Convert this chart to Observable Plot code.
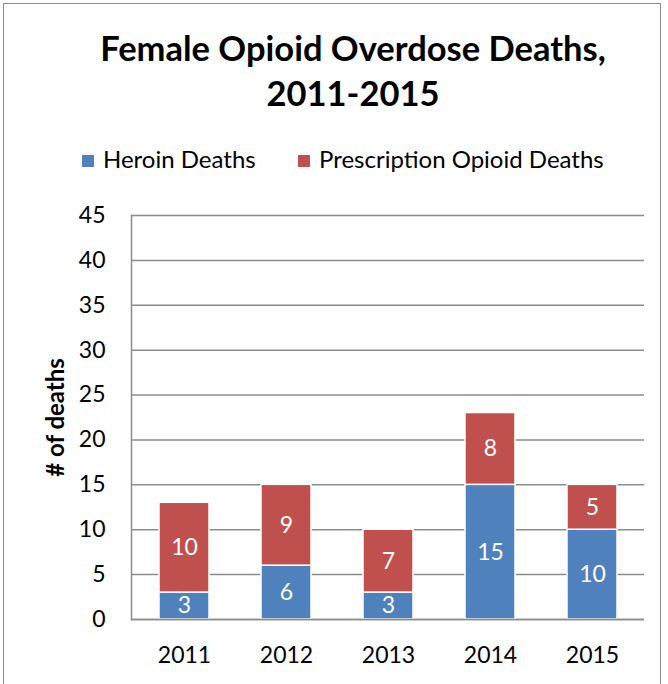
<!DOCTYPE html>
<html>
<head>
<meta charset="utf-8">
<script src="https://cdn.jsdelivr.net/npm/d3@7"></script>
<script src="https://cdn.jsdelivr.net/npm/@observablehq/plot@0.6"></script>
<style>
  html, body { margin: 0; padding: 0; background: #fff; }
  #wrap { position: relative; width: 668px; height: 684px; overflow: hidden; font-family: Lato, "Open Sans", sans-serif; }
  #border { position: absolute; left: 3px; top: 3px; width: 658px; height: 720px; border: 1.5px solid #8c8c8c; box-sizing: border-box; }
  #title { position: absolute; left: 53px; width: 600px; top: 25px; text-align: center; font-weight: 700; font-size: 34.5px; line-height: 45px; color: #000; }
  .leg { position: absolute; top: 147px; font-size: 24px; line-height: 24px; color: #000; white-space: nowrap; }
  .sw { position: absolute; width: 12px; height: 12px; top: 8px; }
  .leg span.t { position: absolute; white-space: nowrap; }
  #chart { position: absolute; left: 0; top: 190px; }
</style>
</head>
<body>
<div id="wrap">
  <div id="border"></div>
  <div id="title"></div>
  <div id="legend"></div>
  <div id="chart"></div>
</div>
<script>
const years = ["2011", "2012", "2013", "2014", "2015"];
const seriesNames = ["Heroin Deaths", "Prescription Opioid Deaths"];
const heroin = [3, 6, 3, 15, 10];
const prescription = [10, 9, 7, 8, 5];
const colors = ["#4F81BD", "#C0504D"];
const yTicks = [0, 5, 10, 15, 20, 25, 30, 35, 40, 45];
const titleLines = ["Female Opioid Overdose Deaths,", "2011-2015"];
const yLabel = "# of deaths";

// title
document.getElementById("title").innerHTML = titleLines.join("<br>");

// legend
const legendLeft = [82, 298];
const legend = document.getElementById("legend");
seriesNames.forEach((name, i) => {
  const item = document.createElement("div");
  item.className = "leg";
  item.style.left = legendLeft[i] + "px";
  const sw = document.createElement("div");
  sw.className = "sw";
  sw.style.background = colors[i];
  sw.style.left = "0px";
  const t = document.createElement("span");
  t.className = "t";
  t.style.left = "21px";
  t.textContent = name;
  item.appendChild(sw);
  item.appendChild(t);
  legend.appendChild(item);
});

const data = [];
years.forEach((y, i) => {
  data.push({year: y, series: seriesNames[0], value: heroin[i]});
  data.push({year: y, series: seriesNames[1], value: prescription[i]});
});

const chart = Plot.plot({
  width: 668,
  height: 494,
  marginTop: 25,
  marginBottom: 65,
  marginLeft: 131,
  marginRight: 24,
  style: {fontFamily: "Lato, 'Open Sans', sans-serif", background: "transparent", overflow: "visible"},
  x: {domain: years, paddingInner: 0.51, paddingOuter: 0.255},
  y: {domain: [0, 45]},
  color: {domain: seriesNames, range: colors},
  marks: [
    Plot.gridY(yTicks, {stroke: "#8c8c8c", strokeOpacity: 1, strokeWidth: 1.5}),
    Plot.frame({anchor: "left", stroke: "#8c8c8c", strokeWidth: 1.5}),
    Plot.barY(data, Plot.stackY({x: "year", y: "value", fill: "series", stroke: "white", strokeWidth: 1.5})),
    Plot.text(data, Plot.stackY({x: "year", y: "value", z: "series", text: d => String(d.value), fill: "white", fontSize: 23})),
    Plot.axisY(yTicks, {tickSize: 0, tickPadding: 26, fontSize: 23, label: yLabel, labelAnchor: "center", labelArrow: "none", labelOffset: 85}),
    Plot.axisX({tickSize: 0, tickPadding: 27, fontSize: 23, label: null}),
    Plot.ruleY([0], {stroke: "#8c8c8c", strokeWidth: 1.5})
  ]
});
// bold y label
chart.querySelectorAll("g[aria-label='y-axis label'] text").forEach(t => { t.setAttribute("font-weight", "700"); t.setAttribute("font-size", "24"); });
document.getElementById("chart").appendChild(chart);
</script>
</body>
</html>
